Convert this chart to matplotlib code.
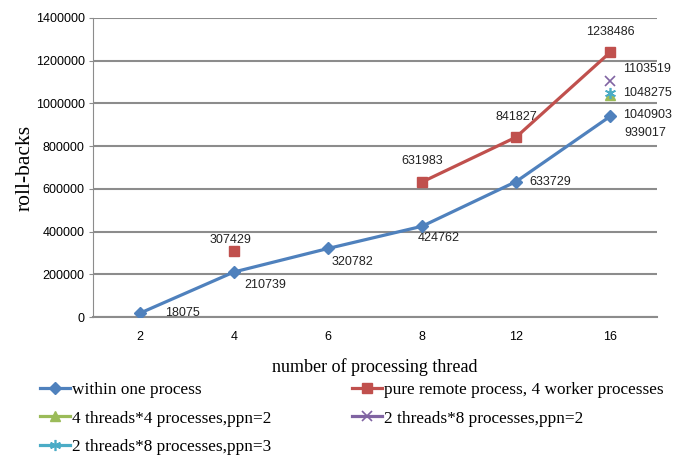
"""Roll-backs vs. number of processing threads"""
import numpy as np
import matplotlib.pyplot as plt
from matplotlib.ticker import StrMethodFormatter

plt.rcParams["font.family"] = ["Liberation Sans", "DejaVu Sans"]

threads = ["2", "4", "6", "8", "12", "16"]
within_one = [18075, 210739, 320782, 424762, 633729, 939017]
pure_remote = [np.nan, 307429, np.nan, 631983, 841827, 1238486]
t4_p4_ppn2 = [np.nan, np.nan, np.nan, np.nan, np.nan, 1040903]
t2_p8_ppn2 = [np.nan, np.nan, np.nan, np.nan, np.nan, 1103519]
t2_p8_ppn3 = [np.nan, np.nan, np.nan, np.nan, np.nan, 1048275]

# label offsets in pixels (dx, dy with dy positive = down)
within_off = [(25, 0), (10, 13), (4, 14), (-4, 12), (13, 0), (14, 17)]
remote_off = [None, (-3, -11), None, (0, -21), (0, -20), (0, -20)]

blue = "#4F81BD"
red = "#C0504D"
green = "#9BBB59"
purple = "#8064A2"
cyan = "#4BACC6"
grid_c = "#8C8C8C"

fig = plt.figure(figsize=(6.84, 4.58), dpi=100)
ax = fig.add_axes([93 / 684, 1 - 317 / 458, 564 / 684, 299 / 458])
x = np.arange(len(threads))

ax.plot(x, within_one, color=blue, lw=2.3, marker="D", ms=6.5, label="within one process", zorder=4)
ax.plot(x, pure_remote, color=red, lw=2.3, marker="s", ms=6.5,
        label="pure remote process, 4 worker processes", zorder=4)
ax.plot(x, t4_p4_ppn2, color=green, lw=2.3, marker="^", ms=7, label="4 threads*4 processes,ppn=2", zorder=5)
ax.plot(x, t2_p8_ppn2, color=purple, lw=2.3, marker="x", ms=7, mew=1.2,
        label="2 threads*8 processes,ppn=2", zorder=5)
ax.plot(x, t2_p8_ppn3, color=cyan, lw=2.3, marker=(6, 2, 0), ms=8, mew=1.2,
        label="2 threads*8 processes,ppn=3", zorder=5)

px = 72 / 100  # pixels -> points
lab_kw = dict(textcoords="offset points", fontsize=9, color="#222222", va="center")
for i, v in enumerate(within_one):
    dx, dy = within_off[i]
    ax.annotate(f"{v}", (x[i], v), xytext=(dx * px, -dy * px), ha="left", **lab_kw)
for i, v in enumerate(pure_remote):
    if np.isnan(v):
        continue
    dx, dy = remote_off[i]
    ax.annotate(f"{int(v)}", (x[i], v), xytext=(dx * px, -dy * px), ha="center", **lab_kw)
ax.annotate(f"{t2_p8_ppn2[5]}", (x[5], t2_p8_ppn2[5]), xytext=(13 * px, 12 * px), ha="left", **lab_kw)
ax.annotate(f"{t2_p8_ppn3[5]}", (x[5], t2_p8_ppn3[5]), xytext=(13 * px, 0), ha="left", **lab_kw)
ax.annotate(f"{t4_p4_ppn2[5]}", (x[5], t4_p4_ppn2[5]), xytext=(13 * px, -20 * px), ha="left", **lab_kw)

ax.set_xlim(-0.5, len(threads) - 0.5)
ax.set_ylim(0, 1400000)
ax.set_xticks(x)
ax.set_xticklabels(threads)
ax.set_yticks(np.arange(0, 1400001, 200000))
ax.yaxis.set_major_formatter(StrMethodFormatter("{x:.0f}"))
ax.tick_params(axis="x", length=0, pad=10, labelsize=9)
ax.tick_params(axis="y", length=3, color=grid_c, labelsize=9, pad=3)
ax.grid(axis="y", color=grid_c, lw=1.5)
ax.set_axisbelow(True)
for s in ["top", "right"]:
    ax.spines[s].set_visible(False)
ax.spines["left"].set_color(grid_c)
ax.spines["bottom"].set_color(grid_c)
ax.spines["bottom"].set_linewidth(1.5)

ax.set_ylabel("roll-backs", family="Liberation Serif", fontsize=15.5, labelpad=1)
ax.set_xlabel("number of processing thread", family="Liberation Serif", fontsize=13, labelpad=11)

h, l = ax.get_legend_handles_labels()
order = [0, 2, 4, 1, 3]
fig.legend([h[i] for i in order], [l[i] for i in order], ncol=2, loc="upper left",
           bbox_to_anchor=(40 / 684, 1 - 382 / 458), frameon=False,
           prop={"family": "Liberation Serif", "size": 12.4},
           handlelength=1.75, handletextpad=0.1, columnspacing=4.7, labelspacing=0.72,
           borderpad=0, borderaxespad=0)

fig.savefig("out.png", dpi=100)
